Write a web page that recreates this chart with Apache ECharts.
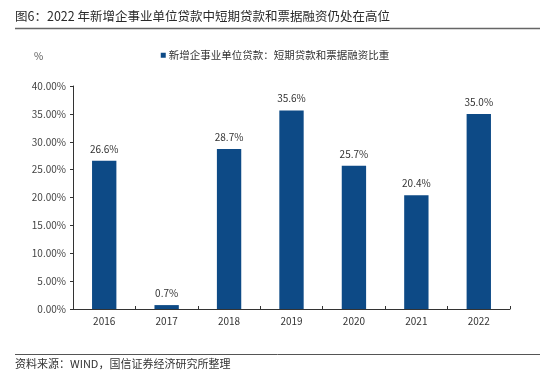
<!DOCTYPE html>
<html><head><meta charset="utf-8">
<script src="https://cdn.jsdelivr.net/npm/echarts@6/dist/echarts.min.js"></script>
<style>html,body{margin:0;padding:0;background:#fff}#c{width:550px;height:378px}</style>
</head><body><div id="c"></div>
<script>
const categories = ['2016','2017','2018','2019','2020','2021','2022'];
const shareValues = [26.6, 0.7, 28.7, 35.6, 25.7, 20.4, 35.0];
const yTicks = [0, 5, 10, 15, 20, 25, 30, 35, 40];
const seriesName = '新增企事业单位贷款：短期贷款和票据融资比重';
const titleText = '图6：2022 年新增企事业单位贷款中短期贷款和票据融资仍处在高位';
const sourceText = '资料来源：WIND，国信证券经济研究所整理';
const F = '"Noto Sans CJK SC", "Noto Sans", sans-serif';
const chart = echarts.init(document.getElementById('c'));
chart.setOption({
  animation: false,
  textStyle: { fontFamily: F },
  graphic: [
    { type: 'text', left: 15, top: 10, style: { text: titleText, font: '12.5px ' + F, fill: '#2a2a2a' } },
    { type: 'line', shape: { x1: 15, y1: 28.5, x2: 540, y2: 28.5 }, style: { stroke: '#666', lineWidth: 1.5 } },
    { type: 'text', left: 34, top: 51, style: { text: '%', font: '10px ' + F, fill: '#555' } },
    { type: 'line', shape: { x1: 15, y1: 354.5, x2: 540, y2: 354.5 }, style: { stroke: '#555', lineWidth: 1 } },
    { type: 'text', left: 15, top: 358, style: { text: sourceText, font: '11px ' + F, fill: '#333' } }
  ],
  legend: {
    top: 45, left: 'center', itemWidth: 5, itemHeight: 5, icon: 'rect', itemGap: 3,
    textStyle: { fontSize: 10.5, color: '#333', fontFamily: F, padding: [0, 0, 0, -2] },
    data: [seriesName]
  },
  grid: { left: 73, right: 40, top: 86, bottom: 69 },
  xAxis: {
    type: 'category', data: categories,
    axisLine: { lineStyle: { color: '#333' } },
    axisTick: { show: true, inside: true, length: 3, lineStyle: { color: '#333' } },
    axisLabel: { color: '#333', fontSize: 10, margin: 7 }
  },
  yAxis: {
    type: 'value', min: yTicks[0], max: yTicks[yTicks.length - 1], interval: 5,
    axisLine: { show: true, lineStyle: { color: '#333' } },
    axisTick: { show: true, inside: false, length: 3, lineStyle: { color: '#333' } },
    splitLine: { show: false },
    axisLabel: { color: '#444', fontSize: 10, margin: 7, formatter: v => v.toFixed(2) + '%' }
  },
  series: [{
    name: seriesName, type: 'bar', data: shareValues, barWidth: '39%',
    itemStyle: { color: '#0d4a86' },
    label: { show: true, position: 'top', distance: 7, color: '#333', fontSize: 10, formatter: p => p.value.toFixed(1) + '%' }
  }]
});
</script></body></html>
